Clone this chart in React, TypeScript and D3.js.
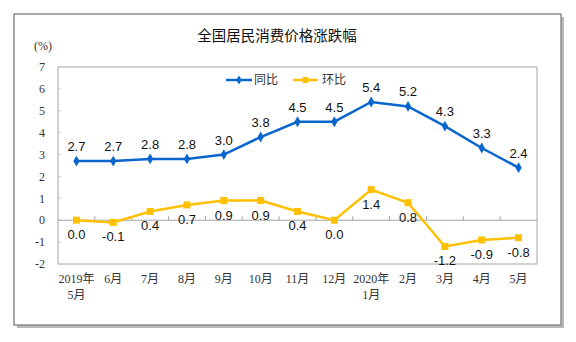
import React from "react";
import * as d3 from "d3";

const categories = ["2019年\n5月", "6月", "7月", "8月", "9月", "10月", "11月", "12月", "2020年\n1月", "2月", "3月", "4月", "5月"];
const yoy = [2.7, 2.7, 2.8, 2.8, 3.0, 3.8, 4.5, 4.5, 5.4, 5.2, 4.3, 3.3, 2.4];
const mom = [0.0, -0.1, 0.4, 0.7, 0.9, 0.9, 0.4, 0.0, 1.4, 0.8, -1.2, -0.9, -0.8];
const yTicks = [-2, -1, 0, 1, 2, 3, 4, 5, 6, 7];
const seriesNames = ["同比", "环比"];

const BLUE = "#0a66cc";
const YELLOW = "#ffc000";

export default function App() {
  const W = 576, H = 342;
  const left = 58, right = 537, top = 67, bottom = 264;
  const x = d3.scaleBand<number>().domain(d3.range(categories.length)).range([left, right]);
  const y = d3.scaleLinear().domain([-2, 7]).range([bottom, top]);
  const cx = (i: number) => (x(i) as number) + x.bandwidth() / 2;
  const line = d3.line<number>().x((_, i) => cx(i)).y((d) => y(d));
  const serif = "'Liberation Serif', 'Noto Sans CJK SC', serif";
  const sans = "'Liberation Sans', Arial, sans-serif";
  const cjk = "'Noto Sans CJK SC', sans-serif";
  const diamond = d3.symbol().type(d3.symbolDiamond).size(34)();

  return (
    <div style={{ position: "absolute", left: 0, top: 0 }}>
      <svg width={W} height={H} style={{ display: "block", background: "#fff" }}>
        {/* frame with shadow */}
        <rect x={17} y={17} width={547} height={311} fill="#b8b8b8" />
        <rect x={14} y={14} width={547} height={311} fill="#fff" stroke="#8c8c8c" strokeWidth={1.5} />
        <text x={277} y={41} textAnchor="middle" fontFamily={cjk} fontSize={14.5} fill="#111">全国居民消费价格涨跌幅</text>
        <text x={43} y={50} textAnchor="middle" fontFamily={serif} fontSize={12} fill="#333">(%)</text>
        {/* plot area */}
        <rect x={left} y={top} width={right - left} height={bottom - top} fill="#fff" stroke="#a6a6a6" strokeWidth={1} />
        {yTicks.map((t) => (
          <g key={t}>
            <line x1={left} x2={left + 3} y1={y(t)} y2={y(t)} stroke="#c8c8c8" />
            <text x={45} y={y(t)} dy="0.35em" textAnchor="end" fontFamily={serif} fontSize={12} fill="#333">{t}</text>
          </g>
        ))}
        {/* zero axis */}
        <line x1={left} x2={right} y1={y(0)} y2={y(0)} stroke="#a6a6a6" strokeWidth={1} />
        {d3.range(1, categories.length).map((i) => (
          <line key={i} x1={x(i) as number} x2={x(i) as number} y1={y(0)} y2={y(0) - 4} stroke="#a6a6a6" />
        ))}
        {/* x labels */}
        {categories.map((c, i) => (
          <text key={i} x={cx(i)} y={283} textAnchor="middle" fontFamily={serif} fontSize={12} fill="#333">
            {c.split("\n").map((s, j) => (
              <tspan key={j} x={cx(i)} dy={j === 0 ? 0 : 16}>{s}</tspan>
            ))}
          </text>
        ))}
        {/* series */}
        <path d={line(mom) || ""} fill="none" stroke={YELLOW} strokeWidth={2.5} />
        {mom.map((v, i) => (
          <rect key={i} x={cx(i) - 3.5} y={y(v) - 3.5} width={7} height={7} fill={YELLOW} />
        ))}
        <path d={line(yoy) || ""} fill="none" stroke={BLUE} strokeWidth={2.5} />
        {yoy.map((v, i) => (
          <path key={i} d={diamond || ""} transform={`translate(${cx(i)},${y(v)})`} fill={BLUE} />
        ))}
        {/* data labels */}
        {yoy.map((v, i) => (
          <text key={i} x={cx(i)} y={y(v) - 10} textAnchor="middle" fontFamily={sans} fontSize={13} fill="#111">{v.toFixed(1)}</text>
        ))}
        {mom.map((v, i) => (
          <text key={i} x={cx(i)} y={y(v) + 19} textAnchor="middle" fontFamily={sans} fontSize={13} fill="#111">{v.toFixed(1)}</text>
        ))}
        {/* legend */}
        <g>
          <line x1={226} x2={252} y1={80} y2={80} stroke={BLUE} strokeWidth={2.5} />
          <path d={d3.symbol().type(d3.symbolDiamond).size(24)() || ""} transform="translate(239,80)" fill={BLUE} />
          <text x={254} y={80} dy="0.35em" fontFamily={cjk} fontSize={12} fill="#333">{seriesNames[0]}</text>
          <line x1={293} x2={318} y1={80} y2={80} stroke={YELLOW} strokeWidth={2.5} />
          <rect x={302.5} y={77} width={6} height={6} fill={YELLOW} />
          <text x={322} y={80} dy="0.35em" fontFamily={cjk} fontSize={12} fill="#333">{seriesNames[1]}</text>
        </g>
      </svg>
    </div>
  );
}
